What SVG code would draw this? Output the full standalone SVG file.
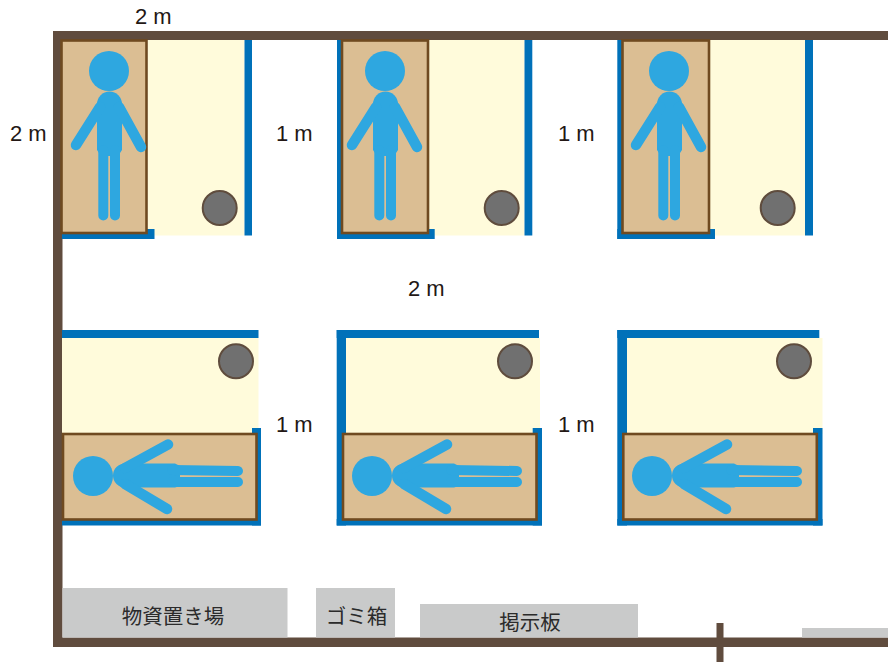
<svg xmlns="http://www.w3.org/2000/svg" width="888" height="663" viewBox="0 0 888 663">
<style>
.wall{fill:#604c3e}
.blue{fill:#0071b9}
.floor{fill:#fffbdb}
.mat{fill:#dbbe93;stroke:#6f4a20;stroke-width:2.6}
.bin{fill:#707070;stroke:#5f4c3d;stroke-width:2}
.fig{fill:#2ea7e0}
.limb{stroke:#2ea7e0;stroke-width:10.500;stroke-linecap:round;fill:none}
.leg{stroke:#2ea7e0;stroke-width:10;stroke-linecap:round;fill:none}
.box{fill:#c9caca}
.t{font-family:"Liberation Sans","Noto Sans CJK JP",sans-serif;font-size:22px;fill:#231815}
.j{font-family:"Noto Sans CJK JP",sans-serif;font-size:20.500px;fill:#2b2b2b;text-anchor:middle}
</style>
<defs>
<g id="pv">
<circle class="fig" cx="109" cy="71" r="20"/>
<path class="fig" d="M97 104a12.500 12.500 0 0 1 25 0V150l-4 6H101l-4-6Z"/>
<path class="limb" d="M100 107L76 145M119 107L141 147"/>
<path class="leg" d="M103.300 150V215.500M115 150V215.500"/>
</g>
<g id="ph">
<circle class="fig" cx="93" cy="476" r="20"/>
<path class="fig" d="M125 463.500H175L180 466V486L175 487.500H125a12 12 0 0 1 0-24Z"/>
<path class="limb" d="M125 468L168 444.500M125 484L167 509"/>
<path class="leg" d="M172 470L238 471M172 482L238 482"/>
</g>
</defs>
<g id="walls">
<rect class="wall" x="53" y="31" width="835" height="9"/>
<rect class="wall" x="53" y="31" width="9.500" height="616"/>
<rect class="wall" x="53" y="637.500" width="835" height="9.500"/>
<rect class="wall" x="716.500" y="623" width="7" height="39"/>
</g>
<g id="room-top-1">
<rect class="floor" x="148" y="40" width="96.500" height="195.500"/>
<rect class="blue" x="244.500" y="40" width="7.500" height="195.500"/>
<rect class="blue" x="62" y="229" width="92.500" height="10"/>
<rect class="mat" x="61.500" y="40.500" width="85" height="192.500"/>
<use href="#pv"/>
<circle class="bin" cx="219.700" cy="208" r="17"/>
</g>
<g id="room-top-2">
<rect class="floor" x="428" y="40" width="96.500" height="195.500"/>
<rect class="blue" x="524.500" y="40" width="7.800" height="195.500"/>
<rect class="blue" x="337" y="40" width="6" height="199"/>
<rect class="blue" x="337" y="229" width="97.700" height="10"/>
<rect class="mat" x="342" y="40.500" width="86" height="192.500"/>
<use href="#pv" x="276"/>
<circle class="bin" cx="501.700" cy="208" r="17"/>
</g>
<g id="room-top-3">
<rect class="floor" x="709" y="40" width="96" height="195.500"/>
<rect class="blue" x="805" y="40" width="8" height="195.500"/>
<rect class="blue" x="617.300" y="40" width="6" height="199"/>
<rect class="blue" x="617.300" y="229" width="97.700" height="10"/>
<rect class="mat" x="622.500" y="40.500" width="86.500" height="192.500"/>
<use href="#pv" x="560"/>
<circle class="bin" cx="777.700" cy="208" r="17"/>
</g>
<g id="room-bottom-1">
<rect class="floor" x="62" y="338" width="196.500" height="96"/>
<rect class="blue" x="62" y="330" width="196.500" height="8"/>
<rect class="blue" x="62" y="519" width="199" height="6.500"/>
<rect class="blue" x="252" y="428" width="9" height="97.500"/>
<rect class="mat" x="63" y="434" width="193.500" height="85.500"/>
<use href="#ph"/>
<circle class="bin" cx="236" cy="361.300" r="17"/>
</g>
<g id="room-bottom-2">
<rect class="floor" x="346" y="338" width="194" height="96"/>
<rect class="blue" x="336.700" y="330" width="202.300" height="8"/>
<rect class="blue" x="336.700" y="330" width="9.300" height="195.500"/>
<rect class="blue" x="336.700" y="519" width="205.300" height="6.500"/>
<rect class="blue" x="532.700" y="428" width="9.300" height="97.500"/>
<rect class="mat" x="343" y="434" width="193.500" height="85.500"/>
<use href="#ph" x="279"/>
<circle class="bin" cx="515" cy="361.300" r="17"/>
</g>
<g id="room-bottom-3">
<rect class="floor" x="627" y="338" width="195.500" height="96"/>
<rect class="blue" x="617.300" y="330" width="202" height="8"/>
<rect class="blue" x="617.300" y="330" width="9.700" height="195.500"/>
<rect class="blue" x="617.300" y="519" width="205.200" height="6.500"/>
<rect class="blue" x="813" y="428" width="9.500" height="97.500"/>
<rect class="mat" x="623.300" y="434" width="193.500" height="85.500"/>
<use href="#ph" x="559"/>
<circle class="bin" cx="794" cy="361.300" r="17"/>
</g>
<g id="storage"><rect class="box" x="62.500" y="588" width="225" height="49.500"/><text class="j" x="173" y="624">物資置き場</text></g>
<g id="trash"><rect class="box" x="316" y="588" width="79" height="49.500"/><text class="j" x="356.500" y="624">ゴミ箱</text></g>
<g id="board"><rect class="box" x="420" y="604" width="218" height="33.500"/><text class="j" x="530" y="630">掲示板</text></g>
<g id="box-right"><rect class="box" x="802" y="628" width="86" height="9.500"/></g>
<g id="labels">
<text class="t" x="135" y="24">2 m</text>
<text class="t" x="10" y="141">2 m</text>
<text class="t" x="276" y="141">1 m</text>
<text class="t" x="558" y="141">1 m</text>
<text class="t" x="408" y="296">2 m</text>
<text class="t" x="276" y="432">1 m</text>
<text class="t" x="558" y="432">1 m</text>
</g>
</svg>
